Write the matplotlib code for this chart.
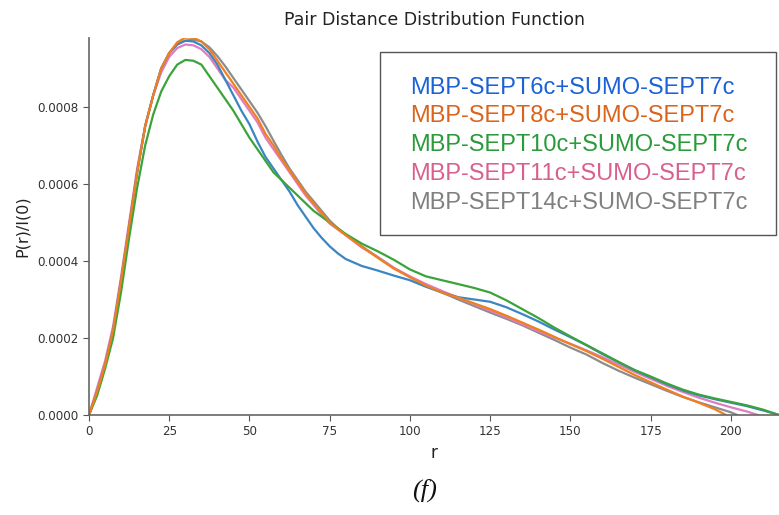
import numpy as np
import matplotlib
matplotlib.use("Agg")
import matplotlib.pyplot as plt
from matplotlib.patches import Rectangle

# P(r)/I(0) curves
r_head = [0, 2.5, 5, 7.5, 10, 12.5, 15, 17.5, 20, 22.5, 25, 27.5, 30, 32.5, 35, 37.5,
          40, 42.5, 45, 47.5, 50, 52.5, 55, 57.5, 60, 62.5, 65, 67.5, 70, 72.5, 75, 77.5,
          80, 85, 90, 95, 100, 105, 110, 115, 120, 125, 130, 135, 140, 145, 150, 155,
          160, 165, 170, 175, 180, 185, 190, 195]

p_sept6 = [0, 0.00006, 0.00013, 0.00022, 0.00035, 0.00049, 0.00063, 0.00075, 0.00083,
           0.0009, 0.00094, 0.000963, 0.000972, 0.00097, 0.00096, 0.00094, 0.00091,
           0.00087, 0.00083, 0.00079, 0.000755, 0.00071, 0.00067, 0.00064, 0.00061,
           0.00058, 0.000545, 0.000515, 0.000485, 0.00046, 0.000438, 0.00042, 0.000405,
           0.000387, 0.000375, 0.000362, 0.00035, 0.000333, 0.000318, 0.000306, 0.0003,
           0.000294, 0.00028, 0.000262, 0.000243, 0.000222, 0.000202, 0.000181, 0.000158,
           0.000137, 0.000116, 0.000098, 0.00008, 0.000064, 0.000051, 0.000041]
r6_tail = [200, 205, 210, 215]
p6_tail = [0.000032, 0.000023, 0.000012, 0]

p_sept8 = [0, 0.00006, 0.00013, 0.00022, 0.00035, 0.00049, 0.00063, 0.00075, 0.00083,
           0.0009, 0.00094, 0.000968, 0.00098, 0.00098, 0.00097, 0.00095, 0.00092,
           0.00089, 0.00086, 0.00083, 0.0008, 0.00077, 0.00073, 0.0007, 0.000665,
           0.000635, 0.000605, 0.000575, 0.00055, 0.000525, 0.0005, 0.000483, 0.000467,
           0.000437, 0.000408, 0.00038, 0.000358, 0.000336, 0.000318, 0.000305, 0.00029,
           0.000275, 0.000258, 0.00024, 0.000222, 0.000203, 0.000184, 0.000166,
           0.000146, 0.000125, 0.000104, 0.000085, 0.000066, 0.000048, 0.000032,
           0.000015]
r8_tail = [198.5]
p8_tail = [0]

p_sept10 = [0, 0.00005, 0.00012, 0.0002, 0.00032, 0.00046, 0.00059, 0.0007, 0.00078,
            0.00084, 0.00088, 0.00091, 0.000922, 0.00092, 0.00091, 0.00088, 0.00085,
            0.00082, 0.00079, 0.000755, 0.00072, 0.00069, 0.00066, 0.00063, 0.00061,
            0.00059, 0.00057, 0.00055, 0.00053, 0.000515, 0.0005, 0.000485, 0.00047,
            0.000445, 0.000425, 0.000403, 0.000378, 0.00036, 0.00035, 0.00034, 0.00033,
            0.000318, 0.000298, 0.000275, 0.000252, 0.000227, 0.000204, 0.000182,
            0.00016, 0.000138, 0.000117, 0.0001, 0.000082, 0.000066, 0.000053, 0.000043]
r10_tail = [200, 205, 210, 215]
p10_tail = [0.000034, 0.000025, 0.000014, 0]

p_sept11 = [0, 0.00007, 0.00014, 0.00023, 0.00036, 0.0005, 0.00064, 0.00075, 0.00083,
            0.00089, 0.00093, 0.000953, 0.000962, 0.00096, 0.00095, 0.00093, 0.0009,
            0.00087, 0.00085, 0.00082, 0.00079, 0.00076, 0.00072, 0.00069, 0.00066,
            0.00063, 0.0006, 0.00057, 0.000545, 0.00052, 0.000497, 0.000482, 0.000467,
            0.000435, 0.00041, 0.000382, 0.00036, 0.00034, 0.000322, 0.000305, 0.000288,
            0.000271, 0.000254, 0.000236, 0.000218, 0.000201, 0.000185, 0.000168,
            0.00015, 0.000131, 0.000112, 0.000094, 0.000076, 0.00006, 0.000045, 0.000032]
r11_tail = [200, 205, 208.5]
p11_tail = [0.00002, 0.000009, 0]

p_sept14 = [0, 0.00006, 0.00013, 0.00022, 0.00035, 0.00049, 0.00063, 0.00075, 0.00083,
            0.0009, 0.00094, 0.000962, 0.000972, 0.000975, 0.00097, 0.000955, 0.000932,
            0.000905, 0.000875, 0.000845, 0.000815, 0.000785, 0.00075, 0.000712, 0.000675,
            0.00064, 0.00061, 0.00058, 0.000555, 0.00053, 0.000505, 0.000485, 0.000468,
            0.000438, 0.00041, 0.000382, 0.000358, 0.000337, 0.000318, 0.0003, 0.000283,
            0.000266, 0.00025, 0.000233, 0.000214, 0.000195, 0.000175, 0.000157,
            0.000135, 0.000115, 0.000097, 0.00008, 0.000063, 0.000047, 0.000033, 0.00002]
r14_tail = [200, 202]
p14_tail = [0.000007, 0]

labels = ["MBP-SEPT6c+SUMO-SEPT7c", "MBP-SEPT8c+SUMO-SEPT7c", "MBP-SEPT10c+SUMO-SEPT7c",
          "MBP-SEPT11c+SUMO-SEPT7c", "MBP-SEPT14c+SUMO-SEPT7c"]

series = [(r_head + r6_tail, p_sept6 + p6_tail),
          (r_head + r8_tail, p_sept8 + p8_tail),
          (r_head + r10_tail, p_sept10 + p10_tail),
          (r_head + r11_tail, p_sept11 + p11_tail),
          (r_head + r14_tail, p_sept14 + p14_tail)]

line_colors = ['#3a85c4', '#f07f1e', '#3aa43a', '#e27cc0', '#8c8c8c']
text_colors = ['#1a62d6', '#db641c', '#2a9a3a', '#d9608e', '#808080']

W, H = 779, 515
fig = plt.figure(figsize=(W/100, H/100), dpi=100)
ax = fig.add_axes([89/W, 1-415/H, 1-89/W, (415-38)/H])

# gray at the back, orange on top near the peak
for i in [4, 3, 0, 2, 1]:
    r, p = series[i]
    ax.plot(r, p, color=line_colors[i], lw=1.6, label=labels[i])

ax.set_xlim(0, 215)
ax.set_ylim(0, 0.000979)
ax.set_xticks([0, 25, 50, 75, 100, 125, 150, 175, 200])
ax.set_yticks([0, 0.0002, 0.0004, 0.0006, 0.0008])
ax.set_yticklabels(["0.0000", "0.0002", "0.0004", "0.0006", "0.0008"])
ax.tick_params(labelsize=8.6, colors='#555555', labelcolor='#333333', length=4)
for s in ['top', 'right']:
    ax.spines[s].set_visible(False)
for s in ['left', 'bottom']:
    ax.spines[s].set_color('#666666')
    ax.spines[s].set_linewidth(1.2)

ax.set_xlabel("r", fontsize=12, color='#222222', labelpad=4)
ax.set_ylabel("P(r)/I(0)", fontsize=11.5, color='#222222', labelpad=5)
fig.text(434/W, 1-20/H, "Pair Distance Distribution Function", ha='center', va='center',
         fontsize=12.5, color='#222222')

# legend box drawn as a framed block of coloured labels
fig.patches.append(Rectangle((380/W, 1-235/H), (776-380)/W, (235-52)/H,
                             transform=fig.transFigure, facecolor='white',
                             edgecolor='#555555', lw=1.0, zorder=5))
row_y = [88, 116, 145, 174, 203]
for lab, c, y in zip(labels, text_colors, row_y):
    fig.text(410/W, 1-y/H, lab, ha='left', va='center', fontsize=17,
             family='Liberation Sans', color=c, zorder=6)

fig.text(425/W, 1-490/H, "(f)", ha='center', va='center', fontsize=19,
         family='Liberation Serif', style='italic', color='#111111')

fig.savefig("out.png", dpi=100)
